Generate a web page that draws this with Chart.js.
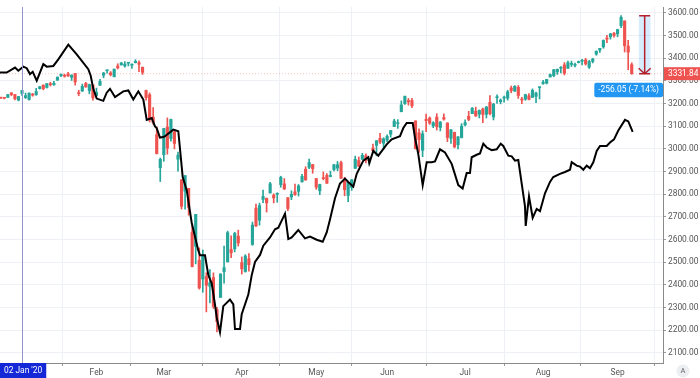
<!DOCTYPE html>
<html>
<head>
<meta charset="utf-8">
<script src="https://cdn.jsdelivr.net/npm/chart.js@4.4.1/dist/chart.umd.min.js"></script>
<style>
html,body{margin:0;padding:0;background:#fff;}
</style>
</head>
<body>
<canvas id="chart" width="700" height="378"></canvas>
<script>
// trading days counted from 02 Jan '20 (= 0); first candle is 23 Dec '19
const firstDay = -6;

const candleOpen = [
  3226.05,3225.45,3227.20,3247.23,3240.09,3215.18,
  3244.67,3226.36,3217.55,3241.86,3238.59,3266.03,3281.21,3271.13,3285.35,3282.27,3302.97,3323.66,3321.03,3330.02,3315.77,3333.10,3247.16,3255.35,3289.46,3256.45,3282.33,
  3235.66,3280.61,3324.91,3344.92,3335.54,3318.28,3365.87,3370.50,3365.90,3378.08,3369.04,3380.39,3380.45,3360.50,3257.61,3238.94,3139.90,3062.54,2916.90,
  2974.28,3096.46,3045.75,3075.70,2954.20,2863.89,2813.48,2825.60,2630.86,2569.99,2508.59,2425.66,2436.50,2393.48,2431.94,2290.71,2344.44,2457.77,2501.29,2555.87,2558.98,2614.69,
  2498.08,2458.54,2514.92,2578.28,2738.65,2685.00,2776.99,2782.46,2805.10,2795.64,2799.34,2842.43,2845.62,2784.81,2787.89,2810.42,2812.64,2854.65,2909.96,2918.46,2930.91,
  2869.09,2815.01,2868.88,2883.14,2878.26,2908.83,2915.46,2939.50,2865.86,2794.54,2829.95,2913.86,2948.59,2953.63,2969.95,2948.05,3004.08,3015.65,3046.61,3025.17,
  3038.78,3064.78,3098.90,3111.56,3163.84,3199.92,3213.32,3213.42,3123.53,3071.04,2993.76,3131.00,3136.13,3101.64,3140.29,3094.42,3138.70,3114.40,3046.60,3073.20,3018.59,3050.20,
  3105.92,3143.64,3155.29,3166.44,3153.07,3176.17,3152.47,3205.08,3141.11,3225.98,3208.36,3224.21,3224.29,3268.52,3254.86,3271.64,3218.58,3219.84,3234.27,3227.22,3231.76,3270.45,
  3288.26,3289.92,3317.37,3323.17,3340.05,3356.04,3370.34,3355.46,3372.95,3368.66,3380.86,3387.04,3392.51,3360.48,3386.01,3418.09,3435.95,3449.97,3485.14,3494.69,3509.73,
  3507.44,3543.76,3564.74,3453.60,3371.88
];
const candleHigh = [
  3227.78,3226.43,3240.08,3247.93,3240.92,3231.72,
  3258.14,3246.15,3246.84,3244.91,3267.07,3275.58,3282.99,3288.13,3294.25,3298.66,3317.11,3329.88,3329.79,3337.77,3326.88,3333.18,3258.85,3285.78,3293.47,3285.91,3282.33,
  3268.44,3306.92,3337.58,3347.96,3341.42,3352.26,3375.63,3381.47,3385.09,3380.69,3375.01,3393.52,3389.15,3360.76,3259.81,3246.99,3182.51,3097.07,2959.72,
  3090.96,3136.72,3130.97,3083.04,2985.93,2863.89,2882.59,2825.60,2660.95,2711.33,2562.98,2553.93,2453.57,2466.97,2453.01,2300.73,2449.71,2571.42,2637.01,2615.91,2631.80,2641.39,
  2522.75,2533.22,2538.18,2676.85,2756.89,2760.75,2818.57,2782.46,2851.85,2801.88,2806.51,2879.22,2868.98,2785.54,2815.10,2844.90,2842.71,2887.72,2921.15,2954.86,2930.91,
  2869.09,2844.24,2898.23,2891.11,2901.92,2932.16,2944.25,2945.82,2874.14,2852.80,2865.01,2968.09,2964.21,2980.29,2978.50,2956.76,3021.72,3036.25,3068.67,3049.17,
  3062.18,3081.07,3130.94,3128.91,3211.72,3233.13,3222.71,3223.27,3123.53,3088.42,3079.76,3153.45,3141.16,3120.00,3155.53,3120.92,3154.90,3115.01,3086.25,3073.73,3053.89,3111.51,
  3128.44,3165.81,3182.59,3184.15,3171.80,3179.78,3186.82,3235.32,3200.95,3238.28,3220.39,3233.52,3258.61,3277.29,3279.32,3279.99,3227.26,3241.43,3243.72,3264.74,3250.92,3272.17,
  3302.73,3306.84,3330.77,3351.03,3352.54,3363.29,3381.01,3387.89,3387.24,3378.51,3387.59,3395.06,3399.54,3390.80,3399.96,3432.09,3444.21,3481.07,3501.38,3509.23,3514.77,
  3528.03,3588.11,3564.85,3479.15,3379.97
];
const candleLow = [
  3222.30,3220.51,3227.20,3234.37,3216.57,3212.03,
  3235.53,3222.34,3214.64,3232.43,3236.67,3263.67,3260.86,3268.43,3277.19,3280.69,3302.82,3318.86,3316.61,3320.04,3301.87,3281.53,3234.50,3253.22,3271.89,3242.80,3214.68,
  3235.66,3280.61,3313.75,3334.39,3322.12,3317.77,3352.72,3369.72,3360.52,3366.15,3355.61,3378.83,3341.02,3328.45,3214.65,3118.77,3108.99,2977.39,2855.84,
  2945.19,2976.63,3034.38,2999.83,2901.54,2734.43,2734.00,2707.22,2478.86,2492.37,2380.94,2367.04,2280.52,2319.78,2295.56,2191.86,2344.44,2407.53,2500.72,2520.02,2545.28,2571.15,
  2447.49,2455.79,2459.96,2574.57,2657.67,2663.30,2762.36,2721.17,2805.10,2761.54,2764.32,2830.88,2820.43,2727.10,2775.95,2794.26,2791.76,2852.89,2860.71,2912.16,2892.47,
  2821.61,2797.85,2863.55,2847.65,2876.48,2902.88,2903.44,2869.59,2793.15,2766.64,2816.78,2913.86,2922.35,2953.63,2938.57,2933.59,2988.17,2969.75,3023.40,2998.61,
  3031.54,3051.64,3098.90,3090.41,3163.84,3196.00,3193.11,3181.49,2999.49,2984.47,2965.66,3076.06,3108.03,3093.51,3083.11,3079.39,3127.12,3032.13,3024.01,3004.63,2999.74,3047.83,
  3101.17,3124.52,3155.29,3142.93,3136.53,3115.70,3136.22,3149.43,3127.66,3200.76,3198.59,3205.65,3215.16,3247.77,3253.10,3222.66,3200.05,3214.25,3216.17,3227.22,3204.13,3220.26,
  3284.53,3286.37,3317.37,3318.14,3328.72,3335.44,3326.44,3355.46,3363.35,3361.64,3379.22,3370.15,3369.66,3354.69,3379.31,3413.13,3425.84,3444.15,3468.35,3484.32,3493.25,
  3494.60,3535.23,3427.41,3349.63,3329.27
];
const candleClose = [
  3224.01,3223.38,3239.91,3240.02,3221.29,3230.78,
  3257.85,3234.85,3246.28,3237.18,3253.05,3274.70,3265.35,3288.13,3283.15,3289.29,3316.81,3329.62,3320.79,3321.75,3325.54,3295.47,3243.63,3276.24,3273.40,3283.66,3225.52,
  3248.92,3297.59,3334.69,3345.78,3327.71,3352.09,3357.75,3379.45,3373.94,3380.16,3370.29,3386.15,3373.23,3337.75,3225.89,3128.21,3116.39,2978.76,2954.22,
  3090.23,3003.37,3130.12,3023.94,2972.37,2746.56,2882.23,2741.38,2480.64,2711.02,2386.13,2529.19,2398.10,2409.39,2304.92,2237.40,2447.33,2475.56,2630.07,2541.47,2626.65,2584.59,
  2470.50,2526.90,2488.65,2663.68,2659.41,2749.98,2789.82,2761.63,2846.06,2783.36,2799.55,2874.56,2823.16,2736.56,2799.31,2797.80,2836.74,2878.48,2863.39,2939.51,2912.43,
  2830.71,2842.74,2868.44,2848.42,2881.19,2929.80,2930.32,2870.12,2820.00,2852.50,2863.70,2953.91,2922.94,2971.61,2948.51,2955.45,2991.77,3036.13,3029.73,3044.31,
  3055.73,3080.82,3122.87,3112.35,3193.93,3232.39,3207.18,3190.14,3002.10,3041.31,3066.59,3124.74,3113.49,3115.34,3097.74,3117.86,3131.29,3050.33,3083.76,3009.05,3053.24,3100.29,
  3115.86,3130.01,3179.72,3145.32,3169.94,3152.05,3185.04,3155.22,3197.52,3226.56,3215.57,3224.73,3251.84,3257.30,3276.02,3235.66,3215.63,3239.41,3218.44,3258.44,3246.22,3271.12,
  3294.61,3306.51,3327.77,3349.16,3351.28,3360.47,3333.69,3380.35,3373.43,3372.85,3381.99,3389.78,3374.85,3385.51,3397.16,3431.28,3443.62,3478.73,3484.55,3508.01,3500.31,
  3526.65,3580.84,3455.06,3426.96,3331.84
];

// black comparison line (trading-day position, value)
const lineDay = [-6.21,-4.32,-1.97,-1.04,0.37,1.33,2.26,3.02,4.15,6.01,6.97,8.83,10.24,13.06,15.43,18.70,19.38,20.11,21.07,22.93,23.89,24.82,26.23,28.58,29.99,31.40,32.81,34.22,35.18,36.59,37.52,37.99,38.91,39.86,40.34,42.68,44.09,45.33,46.46,47.87,49.73,50.21,51.62,52.55,53.51,54.44,54.92,55.85,56.78,58.67,59.61,60.08,61.50,61.97,63.84,64.80,65.73,67.14,68.07,69.96,71.37,72.30,74.19,75.12,76.08,77.94,79.83,81.24,83.13,84.82,85.95,86.88,88.29,89.70,91.11,92.04,93.46,94.42,96.28,97.69,97.97,99.10,100.51,102.88,104.29,106.63,107.56,108.52,110.21,110.86,111.79,113.03,114.16,115.57,116.50,117.91,119.32,121.21,123.07,124.30,125.44,126.37,126.85,128.26,129.20,130.13,131.09,132.50,133.91,135.04,135.77,137.18,138.14,139.07,140.00,140.96,141.89,142.09,143.02,144.06,145.19,146.12,147.53,148.94,149.87,151.76,153.17,154.58,155.06,156.47,157.40,158.34,159.29,160.22,161.16,162.12,163.05,164.94,165.87,167.00,168.21,170.10,171.03,172.27];
const lineValue = [3337,3337,3359,3345,3363,3356,3330,3340,3301,3374,3363,3366,3395,3460,3417,3352,3323,3265,3222,3212,3248,3265,3229,3254,3258,3218,3254,3218,3128,3136,3099,3092,3050,3052,3056,3085,3078,2876,2818,2674,2552,2530,2530,2443,2407,2313,2256,2191,2306,2335,2314,2205,2205,2270,2357,2443,2501,2532,2573,2609,2645,2652,2714,2602,2609,2642,2605,2613,2599,2590,2631,2688,2782,2847,2869,2854,2833,2890,2948,2963,2937,2991,2970,3020,3042,3056,3092,3114,3114,3049,2977,2840,2941,2941,2945,2998,2984,2934,2840,2825,2893,2893,2963,2974,2980,3023,3006,2994,2998,3023,3013,2970,2967,2948,2951,2847,2746,2660,2790,2696,2735,2725,2804,2854,2876,2890,2898,2908,2941,2926,2922,2908,2926,2915,2941,2991,3013,3013,3028,3042,3081,3128,3121,3075];

const monthDays = [21,40,62,83,103,125,147,168];
const monthLabels = ['Feb','Mar','Apr','May','Jun','Jul','Aug','Sep'];
const priceTicks = [2100,2200,2300,2400,2500,2600,2700,2800,2900,3000,3100,3200,3300,3400,3500,3600];

const lastPrice = 3331.84;
const rangeTop = 3587.89;
const rangeDay = 175.65;
const rangeText = '-256.05 (-7.14%)';
const crossDay = 0;
const crossText = "02 Jan '20";

const viewFrom = -6.21, viewTo = 180.82;
const FONT = "Roboto, sans-serif";
const FSIZE = 8.4;
const up = '#26a69a', down = '#ef5350';

const candleColor = candleClose.map((c,i)=> c >= candleOpen[i] ? up : down);
const wicks = candleHigh.map((h,i)=>({x: firstDay+i, y: [candleLow[i], h]}));
const bodies = candleOpen.map((o,i)=>({x: firstDay+i, y: [o, candleClose[i]]}));
const blackLine = lineDay.map((d,i)=>({x: d, y: lineValue[i]}));

const overlay = {
    id: 'overlay',
    afterDraw(chart){
        const {ctx, chartArea: a, scales: {x, y}} = chart;
        ctx.save();

        // crosshair
        const cx = Math.round(x.getPixelForValue(crossDay)) + 0.5;
        ctx.strokeStyle = '#9396cc';
        ctx.lineWidth = 1;
        ctx.beginPath(); ctx.moveTo(cx, a.top); ctx.lineTo(cx, a.bottom); ctx.stroke();

        // price range arrow
        const rx = x.getPixelForValue(rangeDay);
        const r1 = y.getPixelForValue(rangeTop), r2 = y.getPixelForValue(lastPrice);
        ctx.strokeStyle = '#b3222c';
        ctx.lineWidth = 1.5;
        ctx.beginPath();
        ctx.moveTo(rx-5.5, r1); ctx.lineTo(rx+5.5, r1);
        ctx.moveTo(rx, r1); ctx.lineTo(rx, r2);
        ctx.moveTo(rx-5.5, r2); ctx.lineTo(rx+5.5, r2);
        ctx.moveTo(rx-6, r2-5.5); ctx.lineTo(rx, r2); ctx.lineTo(rx+6, r2-5.5);
        ctx.stroke();

        ctx.font = FSIZE + 'px ' + FONT;
        ctx.textBaseline = 'middle';

        // range label
        let w = ctx.measureText(rangeText).width + 8;
        let bx = a.right - w, by = r2 + 9;
        ctx.fillStyle = '#2196f3';
        ctx.beginPath(); ctx.roundRect(bx, by, w, 14.5, 2); ctx.fill();
        ctx.fillStyle = '#fff';
        ctx.textAlign = 'center';
        ctx.fillText(rangeText, bx + w/2, by + 7.5);

        // last price on axis
        ctx.fillStyle = '#ef5350';
        ctx.fillRect(a.right + 1, r2 - 6.5, chart.width - a.right - 1, 13);
        ctx.fillStyle = '#fff';
        ctx.textAlign = 'left';
        ctx.fillText(lastPrice.toFixed(2), a.right + 5, r2 + 0.5);

        // crosshair date label
        w = ctx.measureText(crossText).width + 8;
        bx = Math.max(0, cx - w/2);
        ctx.fillStyle = '#1428d8';
        ctx.fillRect(bx, a.bottom, w, chart.height - a.bottom);
        ctx.fillStyle = '#fff';
        ctx.textAlign = 'center';
        ctx.fillText(crossText, bx + w/2, a.bottom + 8);

        // auto-scale button
        ctx.fillStyle = '#eceef2';
        ctx.beginPath(); ctx.arc(683, 371, 6.5, 0, Math.PI*2); ctx.fill();
        ctx.fillStyle = '#666';
        ctx.font = '7.5px ' + FONT;
        ctx.fillText('A', 683, 371.5);

        ctx.restore();
    }
};

new Chart(document.getElementById('chart'), {
    type: 'bar',
    data: {
        datasets: [
            {type:'line', data: blackLine, borderColor:'#000', borderWidth:2, pointRadius:0, tension:0, order:0},
            {data: bodies, backgroundColor: candleColor, barThickness:2.5, minBarLength:1, grouped:false, order:1},
            {data: wicks, backgroundColor: candleColor, barThickness:1, grouped:false, order:2},
            {type:'line', data: [{x:viewFrom, y:lastPrice},{x:viewTo, y:lastPrice}], borderColor:'rgba(239,83,80,0.35)', borderWidth:1, borderDash:[1,2], pointRadius:0, order:3},
            {data: [{x:rangeDay, y:[lastPrice, rangeTop]}], backgroundColor:'rgba(33,150,243,0.18)', barThickness:11, grouped:false, order:4}
        ]
    },
    options: {
        responsive: false,
        devicePixelRatio: 1,
        animation: false,
        events: [],
        layout: {padding: 0},
        plugins: {legend:{display:false}, tooltip:{enabled:false}},
        scales: {
            x: {
                type:'linear', min: viewFrom, max: viewTo, offset:false,
                afterBuildTicks: s => { s.ticks = monthDays.map(v=>({value:v})); },
                afterFit: s => { s.height = 15; },
                ticks: {callback:(v,i)=>monthLabels[i], autoSkip:false, maxRotation:0, padding:2, color:'#555', font:{family:FONT, size:FSIZE}},
                grid: {color:'#edf0f5', tickColor:'#999', tickLength:3},
                border: {color:'#8a8a8a'}
            },
            y: {
                position:'right', min:2055, max:3626,
                afterBuildTicks: s => { s.ticks = priceTicks.map(v=>({value:v})); },
                afterFit: s => { s.width = 37; },
                ticks: {callback:v=>v.toFixed(2), padding:2, color:'#555', font:{family:FONT, size:FSIZE}},
                grid: {color:'#edf0f5', tickColor:'#999', tickLength:3},
                border: {color:'#8a8a8a'}
            }
        }
    },
    plugins: [overlay]
});
</script>
</body>
</html>
